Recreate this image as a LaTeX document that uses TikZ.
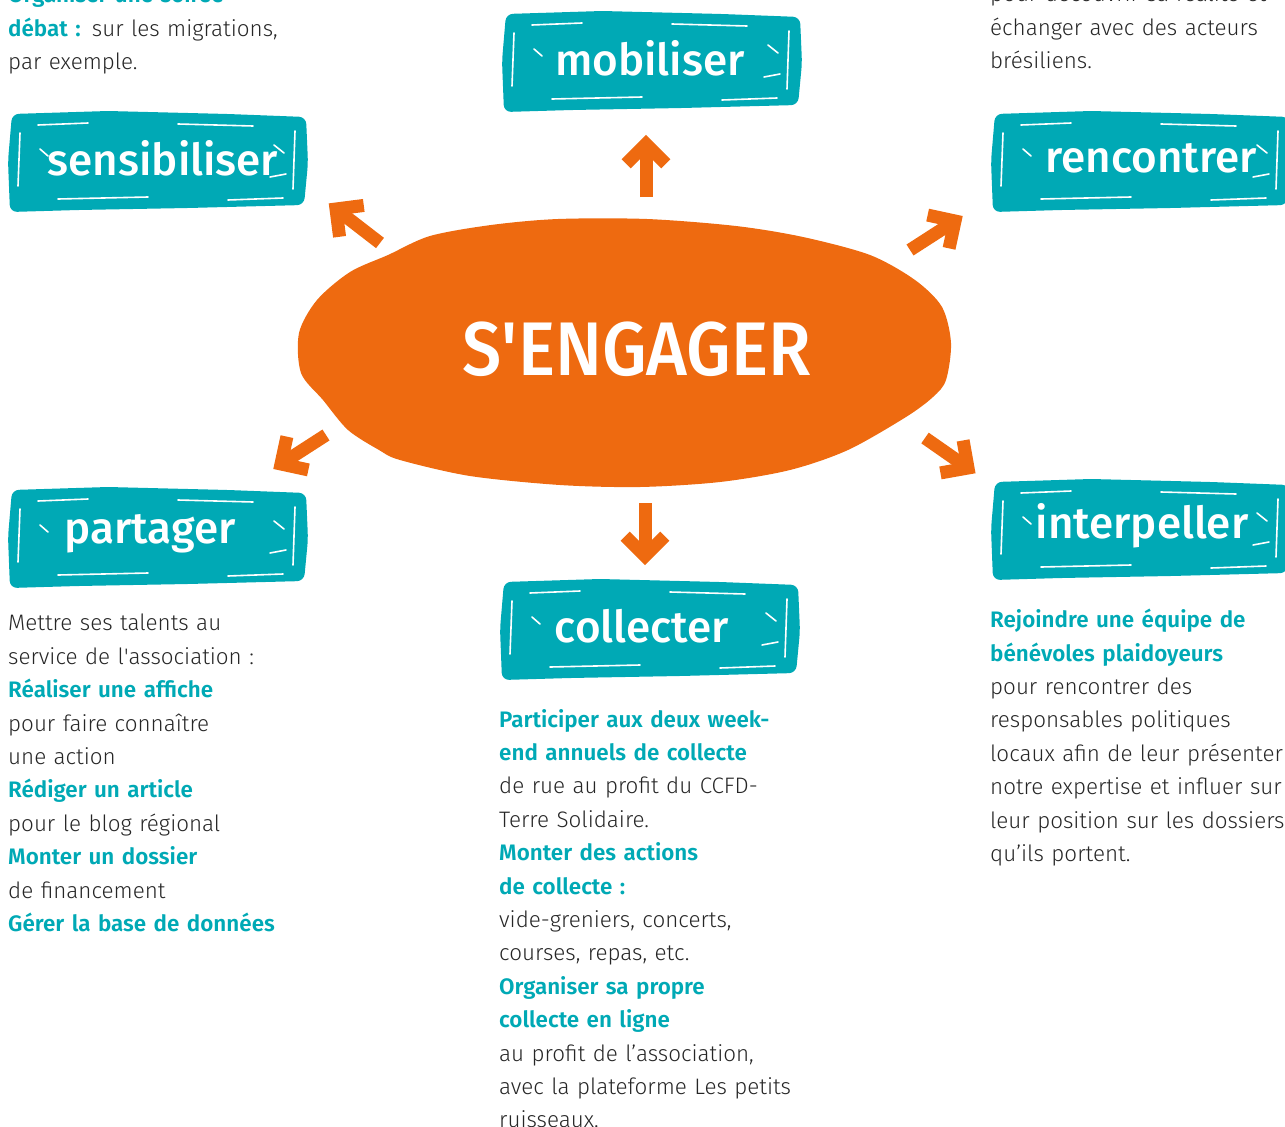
\documentclass[tikz,border=0pt]{standalone}
\usepackage{fontspec}
\setmainfont{Fira Sans Light}[BoldFont={Fira Sans SemiBold}]
\newfontfamily\boxfont{Fira Sans Medium}
\usetikzlibrary{calc}

\definecolor{engteal}{HTML}{00A9B5}
\definecolor{engorange}{HTML}{EE6A10}
\definecolor{ink}{HTML}{262626}

\newcommand{\hl}[1]{{\bfseries\color{engteal}#1}}

\tikzset{
  boxlabel/.style={text=white,inner sep=0pt,font=\boxfont\fontsize{44}{48}\selectfont},
  scratch/.style={draw=white,line width=1.6pt,line cap=round},
  bodytext/.style={anchor=north west,inner sep=0pt,text width=310pt,align=left,
    text=ink,font=\fontsize{22.4}{33.4}\selectfont},
  engline/.style={draw=engorange,line width=13pt}
}

% brushed box: name, x, y, label, label shift
\newcommand{\brushbox}[5]{%
  \fill[engteal,rounded corners=7pt] (#2-146,#3-47) -- (#2-50,#3-50) -- (#2+70,#3-47)
    -- (#2+148,#3-44) -- (#2+150,#3+2) -- (#2+146,#3+44) -- (#2+30,#3+47)
    -- (#2-80,#3+49) -- (#2-148,#3+51) -- (#2-150,#3) -- cycle;
  \draw[scratch] (#2-120,#3-36) -- (#2-70,#3-38);
  \draw[scratch] (#2+20,#3-37) -- (#2+95,#3-35);
  \draw[scratch] (#2-100,#3+38) -- (#2-10,#3+36);
  \draw[scratch] (#2+70,#3+39) -- (#2+125,#3+37);
  \draw[scratch] (#2-138,#3-28) -- (#2-140,#3+25);
  \draw[scratch] (#2+137,#3-30) -- (#2+135,#3+28);
  \draw[scratch] (#2-118,#3-12) -- (#2-110,#3-5);
  \draw[scratch] (#2+116,#3-16) -- (#2+126,#3-8);
  \draw[scratch] (#2+112,#3+16) -- (#2+128,#3+13);
  \node[boxlabel] (#1) at (#2+#5,#3-3) {#4};
}

% thick chevron arrow: tail, head
\newcommand{\engarrow}[2]{%
  \draw[engline] (#1) -- (#2);
  \draw[engline,line join=miter] ($(#2)!28pt!45:(#1)$) -- (#2) -- ($(#2)!28pt!-45:(#1)$);
}

\begin{document}
\begin{tikzpicture}[x=1pt,y=-1pt]
  \useasboundingbox (0,0) rectangle (1285,1127);
  \clip (0,0) rectangle (1285,1127);

  % centre
  \fill[engorange] plot[smooth cycle] coordinates {(388,255) (430,236) (491,225)
    (558,219) (647,219) (736,226) (803,237) (870,255) (915,280) (942,307)
    (951,343) (946,380) (933,397) (906,417) (848,450) (790,470) (720,482)
    (640,487) (560,485) (470,476) (400,460) (379,450) (348,430) (323,400)
    (301,373) (299,333) (317,300) (350,272)};
  \node[text=white,inner sep=0pt,font=\boxfont\fontsize{76}{80}\selectfont]
    (engage) at (637,349) {\scalebox{0.92}[1]{S\textquotesingle ENGAGER}};

  % boxes
  \brushbox{mob}{652}{61}{mobiliser}{-2}
  \brushbox{sens}{158}{161}{sensibiliser}{5}
  \brushbox{renc}{1141}{161}{rencontrer}{10}
  \brushbox{part}{158}{537}{partager}{-8}
  \brushbox{inter}{1141}{529}{interpeller}{1}
  \brushbox{coll}{650}{629}{collecter}{-8}

  % arrows
  \coordinate (mobT) at (646,197);  \coordinate (mobH) at (646,144);
  \coordinate (sensT) at (380,243); \coordinate (sensH) at (336,209);
  \coordinate (rencT) at (910,250); \coordinate (rencH) at (955,221);
  \coordinate (partT) at (326,435); \coordinate (partH) at (281,464);
  \coordinate (interT) at (925,438); \coordinate (interH) at (968,468);
  \coordinate (collT) at (645,503); \coordinate (collH) at (645,556);
  \engarrow{mobT}{mobH}
  \engarrow{sensT}{sensH}
  \engarrow{rencT}{rencH}
  \engarrow{partT}{partH}
  \engarrow{interT}{interH}
  \engarrow{collT}{collH}

  % texts
  \node[bodytext] (sensTxt) at (8,-16) {\hl{Organiser une soirée}\\
    \hl{débat :} sur les migrations,\\
    par exemple.};
  \node[bodytext] (rencTxt) at (990,-16) {pour découvrir sa réalité et\\
    échanger avec des acteurs\\
    brésiliens.};
  \node[bodytext] (partTxt) at (8,614) {Mettre ses talents au\\
    service de l\textquotesingle association :\\
    \hl{Réaliser une affiche}\\
    pour faire connaître\\
    une action\\
    \hl{Rédiger un article}\\
    pour le blog régional\\
    \hl{Monter un dossier}\\
    de financement\\
    \hl{Gérer la base de données}};
  \node[bodytext] (collTxt) at (499,709) {\hl{Participer aux deux week-}\\
    \hl{end annuels de collecte}\\
    de rue au profit du CCFD-\\
    Terre Solidaire.\\
    \hl{Monter des actions}\\
    \hl{de collecte :}\\
    vide-greniers, concerts,\\
    courses, repas, etc.\\
    \hl{Organiser sa propre}\\
    \hl{collecte en ligne}\\
    au profit de l’association,\\
    avec la plateforme Les petits\\
    ruisseaux.};
  \node[bodytext] (interTxt) at (990,609) {\hl{Rejoindre une équipe de}\\
    \hl{bénévoles plaidoyeurs}\\
    pour rencontrer des\\
    responsables politiques\\
    locaux afin de leur présenter\\
    notre expertise et influer sur\\
    leur position sur les dossiers\\
    qu’ils portent.};
\end{tikzpicture}
\end{document}
